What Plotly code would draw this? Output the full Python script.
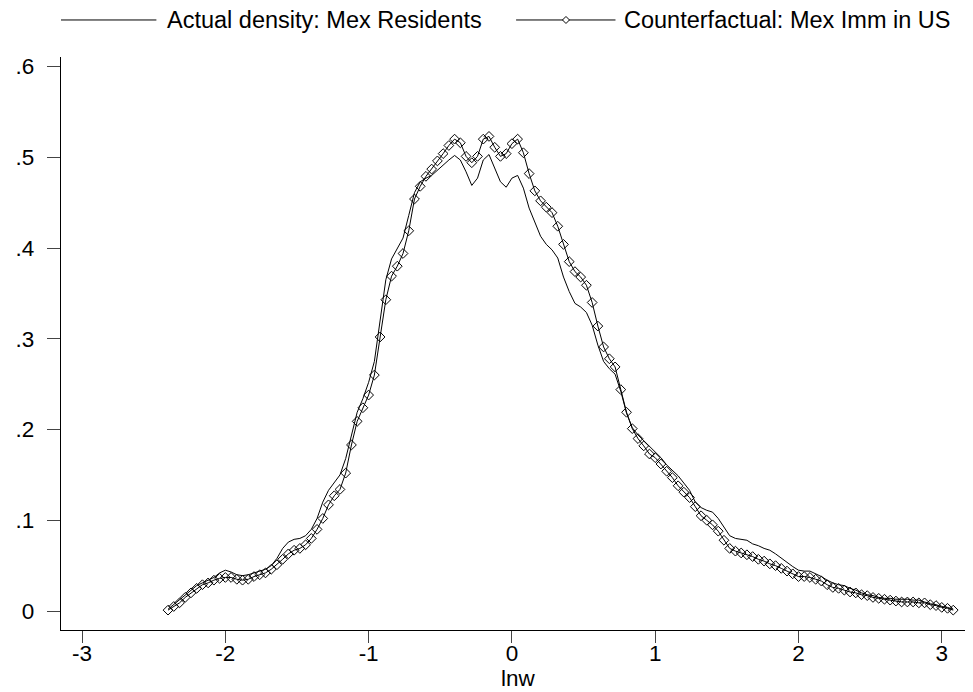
"""
Kernel density of log wages: Mexican residents vs counterfactual (Mexican immigrants in US).
"""
import plotly.graph_objects as go

# ============================================================
# Data
# ============================================================
LNW = [
    -2.40, -2.36, -2.32, -2.28, -2.24, -2.20, -2.16, -2.12, -2.08, -2.04,
    -2.00, -1.96, -1.92, -1.88, -1.84, -1.80, -1.76, -1.72, -1.68, -1.64,
    -1.60, -1.56, -1.52, -1.48, -1.44, -1.40, -1.36, -1.32, -1.28, -1.24,
    -1.20, -1.16, -1.12, -1.08, -1.04, -1.00, -0.96, -0.92, -0.88, -0.84,
    -0.80, -0.76, -0.72, -0.68, -0.64, -0.60, -0.56, -0.52, -0.48, -0.44,
    -0.40, -0.36, -0.32, -0.28, -0.24, -0.20, -0.16, -0.12, -0.08, -0.04,
    0.00, 0.04, 0.08, 0.12, 0.16, 0.20, 0.24, 0.28, 0.32, 0.36,
    0.40, 0.44, 0.48, 0.52, 0.56, 0.60, 0.64, 0.68, 0.72, 0.76,
    0.80, 0.84, 0.88, 0.92, 0.96, 1.00, 1.04, 1.08, 1.12, 1.16,
    1.20, 1.24, 1.28, 1.32, 1.36, 1.40, 1.44, 1.48, 1.52, 1.56,
    1.60, 1.64, 1.68, 1.72, 1.76, 1.80, 1.84, 1.88, 1.92, 1.96,
    2.00, 2.04, 2.08, 2.12, 2.16, 2.20, 2.24, 2.28, 2.32, 2.36,
    2.40, 2.44, 2.48, 2.52, 2.56, 2.60, 2.64, 2.68, 2.72, 2.76,
    2.80, 2.84, 2.88, 2.92, 2.96, 3.00, 3.04, 3.08,
]

ACTUAL = [
    0.002, 0.007, 0.012, 0.017, 0.023, 0.028, 0.031, 0.034, 0.037, 0.042,
    0.045, 0.043, 0.040, 0.039, 0.040, 0.042, 0.044, 0.046, 0.050, 0.058,
    0.069, 0.076, 0.079, 0.080, 0.083, 0.090, 0.102, 0.120, 0.133, 0.141,
    0.150, 0.168, 0.192, 0.219, 0.234, 0.252, 0.275, 0.318, 0.365, 0.388,
    0.400, 0.411, 0.436, 0.461, 0.473, 0.477, 0.480, 0.486, 0.491, 0.497,
    0.502, 0.497, 0.484, 0.469, 0.477, 0.497, 0.503, 0.487, 0.473, 0.467,
    0.477, 0.480, 0.466, 0.444, 0.428, 0.413, 0.404, 0.398, 0.389, 0.368,
    0.352, 0.339, 0.335, 0.329, 0.315, 0.293, 0.275, 0.267, 0.261, 0.242,
    0.218, 0.202, 0.194, 0.188, 0.181, 0.175, 0.169, 0.161, 0.155, 0.149,
    0.141, 0.133, 0.120, 0.114, 0.111, 0.109, 0.102, 0.092, 0.083, 0.080,
    0.079, 0.078, 0.074, 0.072, 0.069, 0.067, 0.063, 0.058, 0.053, 0.049,
    0.045, 0.044, 0.044, 0.041, 0.038, 0.034, 0.031, 0.029, 0.028, 0.025,
    0.023, 0.020, 0.018, 0.017, 0.015, 0.014, 0.014, 0.013, 0.013, 0.013,
    0.012, 0.012, 0.010, 0.008, 0.007, 0.005, 0.004, 0.002,
]

COUNTERFACTUAL = [
    0.001, 0.005, 0.009, 0.015, 0.020, 0.025, 0.029, 0.031, 0.034, 0.036,
    0.037, 0.037, 0.035, 0.034, 0.035, 0.038, 0.040, 0.042, 0.046, 0.051,
    0.057, 0.063, 0.067, 0.069, 0.073, 0.080, 0.090, 0.102, 0.117, 0.127,
    0.134, 0.152, 0.183, 0.209, 0.224, 0.238, 0.260, 0.302, 0.343, 0.369,
    0.380, 0.394, 0.419, 0.454, 0.468, 0.479, 0.487, 0.496, 0.504, 0.513,
    0.520, 0.516, 0.501, 0.494, 0.501, 0.520, 0.523, 0.511, 0.501, 0.504,
    0.515, 0.520, 0.505, 0.482, 0.463, 0.452, 0.445, 0.439, 0.424, 0.404,
    0.385, 0.374, 0.368, 0.359, 0.340, 0.314, 0.291, 0.278, 0.269, 0.244,
    0.219, 0.201, 0.190, 0.182, 0.173, 0.169, 0.162, 0.154, 0.147, 0.138,
    0.131, 0.125, 0.115, 0.105, 0.100, 0.095, 0.088, 0.078, 0.069, 0.066,
    0.064, 0.062, 0.060, 0.057, 0.055, 0.052, 0.050, 0.047, 0.044, 0.041,
    0.038, 0.038, 0.037, 0.035, 0.033, 0.029, 0.026, 0.025, 0.023, 0.021,
    0.020, 0.018, 0.017, 0.015, 0.014, 0.013, 0.012, 0.011, 0.010, 0.010,
    0.010, 0.009, 0.009, 0.007, 0.006, 0.004, 0.003, 0.001,
]

X_TICKS = [-3, -2, -1, 0, 1, 2, 3]
X_TICKTEXT = ["-3", "-2", "-1", "0", "1", "2", "3"]
Y_TICKS = [0, 0.1, 0.2, 0.3, 0.4, 0.5, 0.6]
Y_TICKTEXT = ["0", ".1", ".2", ".3", ".4", ".5", ".6"]

LABEL_ACTUAL = "Actual density: Mex Residents"
LABEL_CF = "Counterfactual: Mex Imm in US"
X_TITLE = "lnw"

FONT = "Liberation Sans, Arial, sans-serif"
TICK_SIZE = 22.5
LEGEND_SIZE = 23.5
INK = "#000000"

fig = go.Figure()

fig.add_trace(go.Scatter(
    x=LNW, y=ACTUAL, mode="lines", name=LABEL_ACTUAL,
    line=dict(color=INK, width=1),
))
fig.add_trace(go.Scatter(
    x=LNW, y=COUNTERFACTUAL, mode="lines+markers", name=LABEL_CF,
    line=dict(color=INK, width=1),
    marker=dict(symbol="diamond-open", size=7.5, color=INK, line=dict(width=1, color=INK)),
))

# --- legend drawn by hand (long line keys like the original) ---
LEG_Y = 1.0646
shapes = [
    dict(type="line", xref="paper", yref="paper", x0=0.0, x1=0.1046, y0=LEG_Y, y1=LEG_Y,
         line=dict(color=INK, width=1)),
    dict(type="line", xref="paper", yref="paper", x0=0.4990, x1=0.6080, y0=LEG_Y, y1=LEG_Y,
         line=dict(color=INK, width=1)),
    dict(type="path", xref="paper", yref="paper", xsizemode="pixel", ysizemode="pixel",
         xanchor=0.5537, yanchor=LEG_Y, path="M -3.5,0 L 0,3.5 L 3.5,0 L 0,-3.5 Z",
         line=dict(color=INK, width=1), fillcolor="white"),
]
annotations = [
    dict(text=LABEL_ACTUAL, xref="paper", yref="paper", x=0.1137, y=LEG_Y,
         xanchor="left", yanchor="middle", showarrow=False,
         font=dict(family=FONT, size=LEGEND_SIZE, color=INK)),
    dict(text=LABEL_CF, xref="paper", yref="paper", x=0.6156, y=LEG_Y,
         xanchor="left", yanchor="middle", showarrow=False,
         font=dict(family=FONT, size=LEGEND_SIZE, color=INK)),
    dict(text=X_TITLE, xref="paper", yref="paper", x=0.502, y=-0.0838,
         xanchor="center", yanchor="middle", showarrow=False,
         font=dict(family=FONT, size=TICK_SIZE, color=INK)),
]

# page body adds an 8px offset, so margins are trimmed to keep the plot area in place
fig.update_layout(
    width=973, height=692,
    margin=dict(l=44, r=8, t=49, b=70),
    paper_bgcolor="white", plot_bgcolor="white",
    font=dict(family=FONT, size=TICK_SIZE, color=INK),
    showlegend=False,
    shapes=shapes,
    annotations=annotations,
    xaxis=dict(
        range=[-3.147, 3.218], showgrid=False, zeroline=False,
        showline=True, linecolor=INK, linewidth=1.3,
        ticks="outside", ticklen=12, tickwidth=1, tickcolor="#444",
        tickvals=X_TICKS, ticktext=X_TICKTEXT, ticklabelstandoff=-9,
    ),
    yaxis=dict(
        range=[-0.0209, 0.6105], showgrid=False, zeroline=False,
        showline=True, linecolor=INK, linewidth=1.3,
        ticks="outside", ticklen=13, tickwidth=1, tickcolor="#444",
        tickvals=Y_TICKS, ticktext=Y_TICKTEXT, ticklabelstandoff=8,
    ),
)

fig.write_html("out.html")
